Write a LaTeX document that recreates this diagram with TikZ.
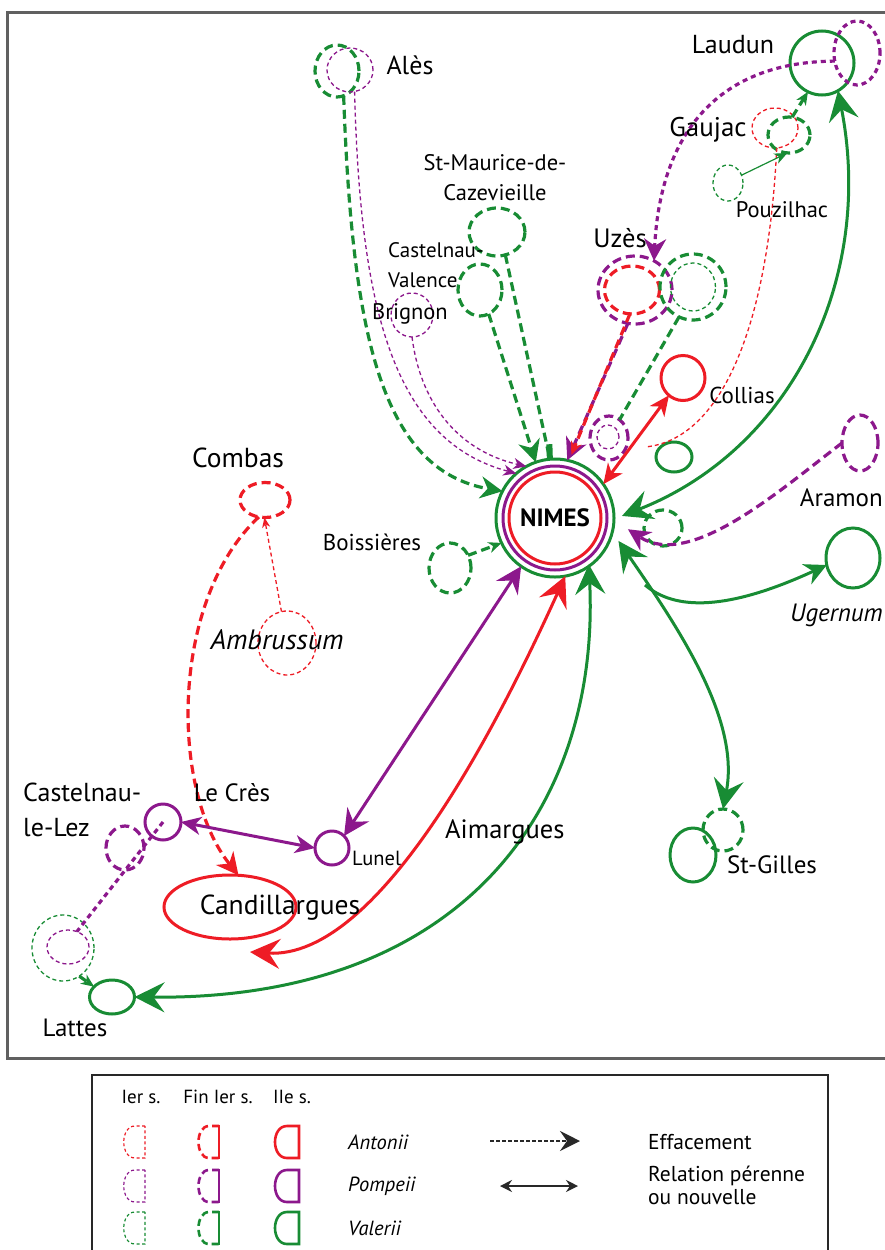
\documentclass[tikz,border=0pt]{standalone}
\usepackage{fontspec}
\setmainfont{PT Sans}
\usetikzlibrary{arrows.meta,shapes.geometric,calc}
\definecolor{cR}{RGB}{238,28,37}
\definecolor{cG}{RGB}{24,140,52}
\definecolor{cP}{RGB}{140,24,140}
\definecolor{cK}{RGB}{40,40,40}
\tikzset{
 thinD/.style={dash pattern=on 4pt off 3pt, line width=1.3pt},
 thickD/.style={dash pattern=on 9pt off 5pt, line width=3.2pt},
 dotD/.style={dash pattern=on 5pt off 4pt, line width=3.2pt},
 solidL/.style={line width=3pt},
 ell/.style={ellipse, draw, inner sep=0pt, outer sep=0pt},
 fs/.style={font=\fontsize{#1}{#1}\selectfont},
 fsi/.style={font=\itshape\fontsize{#1}{#1}\selectfont},
 lab/.style={fs=26, inner sep=0pt, text=black, align=left},
 labm/.style={font=\fontsize{22.5}{30}\selectfont, inner sep=0pt, text=black, align=left},
 labs/.style={inner sep=0pt, text=black, align=left},
 bigtips/.style={{Stealth[length=30pt,width=30pt,inset=11pt]}-{Stealth[length=30pt,width=30pt,inset=11pt]}},
 medtips/.style={{Stealth[length=20pt,width=18pt,inset=6pt]}-{Stealth[length=20pt,width=18pt,inset=6pt]}},
 medtip/.style={-{Stealth[length=22pt,width=22pt,inset=7pt]}},
 smtip/.style={-{Stealth[length=13pt,width=11pt,inset=4pt]}},
 tinytip/.style={-{Stealth[length=10pt,width=8pt,inset=3pt]}},
}
\newcommand{\ellnode}[7]{\node[ell,#1,minimum width=#4pt,minimum height=#5pt] (#2) at (#3) {#6};}
\begin{document}
\begin{tikzpicture}[x=1pt,y=-1pt]
\useasboundingbox (0,0) rectangle (885,1250);
\fill[white] (0,0) rectangle (885,1250);
% map frame
\draw[gray!75!black, line width=3pt] (895,12) -- (7,12) -- (7,1058) -- (895,1058);

% ---------- NIMES
\node[circle, draw=cG, line width=3pt, minimum size=118pt, inner sep=0pt, outer sep=0pt] (nimes) at (555,518) {};
\node[circle, draw=cP, line width=3pt, minimum size=104pt, inner sep=0pt] (nimesP) at (555,518) {};
\node[circle, draw=cR, line width=3pt, minimum size=92pt, inner sep=0pt, font=\bfseries\fontsize{25}{26}\selectfont] (nimesR) at (555,518) {NIMES};

% ---------- places (shapes)
\ellnode{cG,thickD}{alesG}{337,71}{44}{52}{}{}
\ellnode{cP,thinD}{alesP}{350,70}{46}{44}{}{}
\ellnode{cG,thickD}{stmau}{497,232}{56}{48}{}{}
\ellnode{cG,thickD}{castv}{480,290}{44}{52}{}{}
\ellnode{cP,thinD}{brig}{412,315}{42}{44}{}{}
\ellnode{cP,thickD}{uzesP}{635,290}{74}{68}{}{}
\ellnode{cR,thickD}{uzesR}{632,290}{55}{48}{}{}
\ellnode{cG,thickD}{uzesG}{693,287}{66}{66}{}{}
\ellnode{cG,thinD}{uzesGt}{693,287}{45}{48}{}{}
\ellnode{cG,solidL}{laudun}{822,63}{64}{64}{}{}
\ellnode{cP,dotD}{laudunP}{857,53}{46}{64}{}{}
\ellnode{cR,thinD}{gaujR}{775,128}{46}{40}{}{}
\ellnode{cG,thickD}{gaujG}{789,135}{42}{36}{}{}
\ellnode{cG,thinD}{pouz}{728,183}{30}{36}{}{}
\ellnode{cR,solidL}{collias}{683,378}{44}{45}{}{}
\ellnode{cP,thickD}{smallP}{609,438}{38}{44}{}{}
\ellnode{cP,thinD}{smallPi}{608,437}{22}{24}{}{}
\ellnode{cG,solidL}{smallG}{674,457}{36}{30}{}{}
\ellnode{cG,thickD}{greenRd}{663,528}{38}{36}{}{}
\ellnode{cP,thickD}{aramon}{860,443}{36}{56}{}{}
\ellnode{cG,solidL}{ugernum}{853,558}{54}{60}{}{}
\ellnode{cG,thickD}{stgD}{723,830}{40}{42}{}{}
\ellnode{cG,solidL}{stg}{693,855}{46}{54}{}{}
\ellnode{cG,thickD}{boiss}{450,568}{42}{50}{}{}
\ellnode{cR,thickD}{combas}{265,500}{50}{35}{}{}
\ellnode{cR,thinD}{ambr}{287,643}{58}{64}{}{}
\ellnode{cR,solidL}{cand}{230,907}{132}{64}{}{}
\ellnode{cP,thickD}{castlez}{125,848}{38}{44}{}{}
\ellnode{cP,solidL}{lecres}{163,822}{36}{36}{}{}
\ellnode{cP,solidL}{lunel}{332,848}{34}{34}{}{}
\ellnode{cG,thinD}{lattesG}{63,948}{62}{66}{}{}
\ellnode{cP,thinD}{lattesP}{68,947}{42}{34}{}{}
\ellnode{cG,solidL}{lattes}{112,997}{45}{34}{}{}

% ---------- connectors: effacement (dashed)
\draw[cG,thickD,medtip] (alesG.285) .. controls (352,330) and (380,470) .. (nimes.153);
\draw[cP,thinD,smtip] (alesP.282) .. controls (360,300) and (390,440) .. (nimes.131);
\draw[cP,thinD,smtip] (brig.south) .. controls (420,400) and (455,450) .. (nimes.119);
\draw[cG,thickD,medtip] (castv.290) -- (nimes.109);
\draw[cG,thickD] (stmau.290) -- (nimes.95);
\draw[cG,line width=6pt] ($(nimes.95)+(-0.5,-15)$) -- (nimes.95);
\draw[cP,thickD,medtip] (uzesP.258) -- (nimes.78);
\draw[cR,thickD,smtip] (uzesR.265) -- ($(nimes.76)+(2,-6)$);
\draw[cG,thickD] (uzesG.245) -- (smallP.60);
\draw[cR,thinD] (gaujR.275) .. controls (768,330) and (720,440) .. (645,447);
\draw[cP,dotD,medtip] (laudunP.200) .. controls (712,62) and (660,140) .. (uzesP.57);
\draw[cG,thickD,smtip] (gaujG.80) -- (laudun.244);
\draw[cG,line width=1.2pt,smtip] (pouz.30) -- (gaujG.265);
\draw[cR,thinD,tinytip] (ambr.100) -- (combas.268);
\draw[cR,thickD,medtip] (combas.250) .. controls (170,600) and (170,790) .. (cand.75);
\draw[cP,dotD] (lecres.center) -- (lattesP.60);
\draw[cG,thickD,smtip] (lattesG.300) -- (lattes.150);
\draw[cP,thickD,medtip] (aramon.180) .. controls (780,490) and (690,570) .. ($(nimes.-11)+(15,0)$);
\draw[cG,thickD,smtip] (boiss.35) -- (nimes.205);

% ---------- connectors: relations (solid)
\draw[cR,solidL,medtips] (collias.231) -- (nimes.35);
\draw[cG,solidL,bigtips] (laudun.300) .. controls (875,280) and (790,450) .. ($(nimes.2)+(8,0)$);
\draw[cP,solidL,medtips] (lecres.east) -- (lunel.west);
\draw[cP,solidL,{Stealth[length=26pt,width=26pt,inset=9pt]}-{Stealth[length=26pt,width=26pt,inset=9pt]}] (lunel.45) -- (nimes.235);
\draw[cR,solidL,bigtips] (nimes.280) .. controls (500,720) and (380,960) .. (250,952);
\draw[cG,solidL,bigtips] ($(nimes.305)+(0,-2)$) .. controls (600,800) and (470,1000) .. (lattes.east);
\draw[cG,solidL,bigtips] ($(nimes.335)+(10,-2)$) .. controls (680,630) and (740,720) .. (stgD.north);
\draw[cG,solidL,medtip] (645,585) .. controls (680,615) and (740,605) .. (ugernum.195);

% ---------- labels
\node[lab] (lAles) at (410,65) {Alès};
\node[lab] (lLaudun) at (733,45) {Laudun};
\node[lab,fs=27] (lGaujac) at (708,130) {Gaujac};
\node[labm,align=center] (lStMau) at (495,178) {St-Maurice-de-\\Cazevieille};
\node[labm,anchor=west,font=\fontsize{21}{30}\selectfont] (lCastV) at (388,265) {Castelnau-\\Valence};
\node[labm] (lBrig) at (410,314) {Brignon};
\node[lab,fs=26.5] (lUzes) at (620,238) {Uzès};
\node[labm] (lPouz) at (782,210) {Pouzilhac};
\node[lab,fs=23] (lCollias) at (742,395) {Collias};
\node[lab,fs=27.5] (lCombas) at (238,458) {Combas};
\node[lab,fs=23] (lBoiss) at (372,542) {Boissières};
\node[lab,fsi=28] (lAmbr) at (277,640) {Ambrussum};
\node[lab,anchor=east,fs=25] (lAramon) at (883,498) {Aramon};
\node[lab,anchor=east,fsi=25] (lUger) at (883,615) {Ugernum};
\node[lab,anchor=west,fs=25] (lStG) at (727,865) {St-Gilles};
\node[lab,anchor=west,fs=26.5] (lAim) at (445,832) {Aimargues};
\node[labm,anchor=west,fs=20.5] (lLunel) at (352,858) {Lunel};
\node[lab,fs=25] (lLeCres) at (232,793) {Le Crès};
\node[lab,anchor=west,font=\fontsize{26}{35}\selectfont] (lCastLez) at (23,810) {Castelnau-\\le-Lez};
\node[lab,fs=27.5] (lCand) at (280,908) {Candillargues};
\node[lab,fs=25] (lLattes) at (75,1028) {Lattes};

% ---------- legend
\draw[cK, line width=1.5pt] (92,1262) -- (92,1075) -- (828,1075) -- (828,1262);
\node[labs,fs=19] (hA) at (141,1097) {Ier s.};
\node[labs,fs=19] (hB) at (218,1097) {Fin Ier s.};
\node[labs,fs=19] (hC) at (292,1097) {IIe s.};
\foreach \col/\yy in {cR/1142, cP/1186, cG/1228}{
  \draw[\col, dash pattern=on 3pt off 2.5pt, line width=1.2pt] (145,\yy-16) -- (135,\yy-16) .. controls (120,\yy-16) and (120,\yy+16) .. (135,\yy+16) -- (145,\yy+16) -- cycle;
  \draw[\col, dash pattern=on 7pt off 4pt, line width=2.6pt] (219,\yy-16) -- (209,\yy-16) .. controls (195,\yy-16) and (195,\yy+16) .. (209,\yy+16) -- (219,\yy+16);
  \draw[\col, line width=2.6pt] (219,\yy-17) -- (219,\yy+17);
  \draw[\col, line width=2.6pt] (299,\yy-16) -- (287,\yy-16) .. controls (271,\yy-16) and (271,\yy+16) .. (287,\yy+16) -- (299,\yy+16) -- cycle;
}
\node[labs,anchor=west,fsi=20.5] (lgA) at (348,1142) {Antonii};
\node[labs,anchor=west,fsi=20.5] (lgP) at (348,1186) {Pompeii};
\node[labs,anchor=west,fsi=20.5] (lgV) at (348,1228) {Valerii};
\coordinate (ea) at (490,1141);
\coordinate (eb) at (580,1141);
\draw[cK, dash pattern=on 4pt off 2pt, line width=2.5pt, -{Stealth[length=20pt,width=20pt,inset=7pt]}] (ea) -- (eb);
\coordinate (ra) at (500,1186);
\coordinate (rb) at (578,1186);
\draw[cK, line width=1.8pt, {Stealth[length=12pt,width=12pt,inset=4pt]}-{Stealth[length=12pt,width=12pt,inset=4pt]}] (ra) -- (rb);
\node[labs,anchor=west,fs=21.5] (lgE) at (648,1142) {Effacement};
\node[labs,anchor=west,font=\fontsize{21.5}{23}\selectfont] (lgR) at (648,1185) {Relation pérenne\\ou nouvelle};
\end{tikzpicture}
\end{document}
